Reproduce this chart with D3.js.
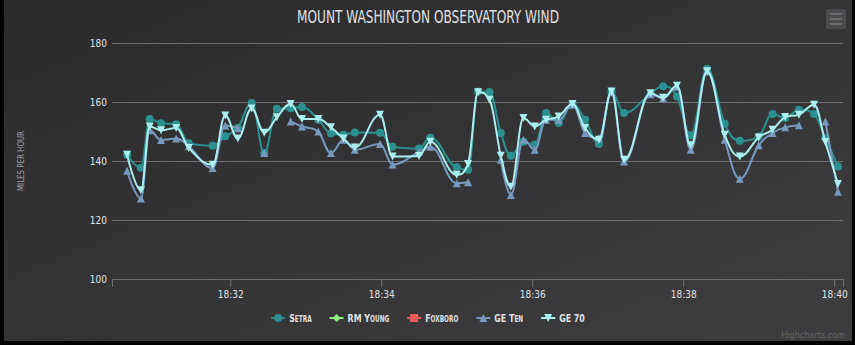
<!DOCTYPE html>
<html>
<head>
<meta charset="utf-8">
<script src="https://cdn.jsdelivr.net/npm/d3@7"></script>
<style>
  html, body { margin: 0; padding: 0; background: #000; }
  svg { display: block; }
  text { font-family: "DejaVu Sans Condensed", "Liberation Sans Narrow", "Roboto", sans-serif; }
</style>
</head>
<body>
<svg id="chart" width="855" height="345"></svg>
<script>
// Observation times (HH:MM:SS)
const times = [
  "18:30:38","18:30:49","18:30:56","18:31:05","18:31:17","18:31:27","18:31:46","18:31:56",
  "18:32:06","18:32:17","18:32:27","18:32:37","18:32:48","18:32:57","18:33:10","18:33:20",
  "18:33:30","18:33:39","18:33:59","18:34:09","18:34:30","18:34:39","18:35:00","18:35:09",
  "18:35:17","18:35:26","18:35:35","18:35:43","18:35:53","18:36:02","18:36:11","18:36:21",
  "18:36:32","18:36:42","18:36:53","18:37:03","18:37:13","18:37:34","18:37:44","18:37:55",
  "18:38:06","18:38:19","18:38:33","18:38:45","18:39:00","18:39:11","18:39:21","18:39:32",
  "18:39:44","18:39:53","18:40:03"
];

// Wind speed per sensor, miles per hour (null = no reading)
const setra = [
  142.1,137.7,154.2,152.8,152.5,146.0,145.2,148.4,151.3,159.7,142.7,157.7,157.9,158.3,154.0,149.3,
  148.9,149.7,149.6,144.8,144.2,147.9,137.9,137.0,163.6,163.4,149.5,141.8,146.5,145.5,156.3,152.9,
  159.3,154.0,145.8,163.6,156.3,162.8,165.3,161.9,148.7,171.3,152.6,146.9,148.3,155.9,154.6,157.4,
  155.9,147.8,138.1
];
const rmYoung = [];
const foxboro = [];
const geTen = [
  136.7,127.3,150.4,147.1,147.6,145.0,137.6,152.0,151.1,null,142.7,null,153.4,151.7,150.0,142.7,
  147.2,143.8,145.8,138.8,143.1,144.8,132.5,132.8,null,null,140.4,128.5,147.2,143.8,154.0,154.0,
  159.1,149.5,147.8,163.3,139.8,162.6,161.3,165.2,143.8,170.3,147.2,134.0,145.3,149.5,151.4,152.1,
  null,153.4,129.6
];
const ge70 = [
  142.1,130.1,151.7,150.4,151.2,144.4,138.7,155.4,147.6,157.8,149.6,154.8,159.3,154.2,154.2,151.4,
  147.6,144.6,155.7,141.5,141.7,146.5,135.3,139.0,163.3,160.8,141.8,131.3,154.6,151.7,154.0,155.1,
  159.3,151.2,147.2,163.6,140.4,163.0,161.4,165.5,145.3,170.4,148.9,141.5,148.0,150.6,154.9,155.7,
  159.1,146.4,132.2
];

const seriesNames = ["Setra", "RM Young", "Foxboro", "GE Ten", "GE 70"];
const seriesValues = [setra, rmYoung, foxboro, geTen, ge70];
const seriesColors = ["#2b908f", "#90ee7e", "#f45b5b", "#7798BF", "#aaeeee"];
const seriesSymbols = ["circle", "diamond", "square", "triangle", "triangle-down"];

const yTicks = [100, 120, 140, 160, 180];
const xTicks = ["18:32:00", "18:34:00", "18:36:00", "18:38:00", "18:40:00"];
const xStart = "18:30:26", xEnd = "18:40:07";

const chartTitle = "MOUNT WASHINGTON OBSERVATORY WIND";
const yTitle = "MILES PER HOUR";
const credits = "Highcharts.com";

// ---------- layout ----------
const W = 855, H = 345;
const plot = { left: 112, right: 843, top: 43, bottom: 279 };
const parseTime = d3.timeParse("%H:%M:%S");
const fontStack = "\"DejaVu Sans Condensed\", \"Liberation Sans Narrow\", Roboto, sans-serif";

const svg = d3.select("#chart");
const defs = svg.append("defs");
const grad = defs.append("linearGradient").attr("id", "bg")
  .attr("x1", 0).attr("y1", 0).attr("x2", 1).attr("y2", 1);
grad.append("stop").attr("offset", 0).attr("stop-color", "#2a2a2b");
grad.append("stop").attr("offset", 1).attr("stop-color", "#3e3e40");

svg.append("rect").attr("width", W).attr("height", H).attr("fill", "#000");
svg.append("rect").attr("x", 4).attr("y", 0).attr("width", 848).attr("height", 341)
  .attr("fill", "url(#bg)");

const x = d3.scaleTime()
  .domain([parseTime(xStart), parseTime(xEnd)])
  .range([plot.left, plot.right]);
const y = d3.scaleLinear().domain([100, 180]).range([plot.bottom, plot.top]);

// title
svg.append("text")
  .attr("x", 428).attr("y", 23)
  .attr("text-anchor", "middle")
  .attr("fill", "#E0E0E3")
  .attr("font-size", 17)
  .attr("textLength", 262).attr("lengthAdjust", "spacingAndGlyphs")
  .text(chartTitle);

// export menu button
const btn = svg.append("g");
btn.append("rect").attr("x", 826).attr("y", 9).attr("width", 20).attr("height", 20)
  .attr("rx", 2).attr("fill", "#4b4b4e");
[14, 19, 24].forEach(v => btn.append("line")
  .attr("x1", 830).attr("x2", 842).attr("y1", v).attr("y2", v)
  .attr("stroke", "#6c6c70").attr("stroke-width", 2));

// y axis with grid
const yAxis = svg.append("g").attr("transform", `translate(${plot.left},0)`)
  .call(d3.axisLeft(y).tickValues(yTicks).tickSize(-(plot.right - plot.left)).tickPadding(5));
yAxis.select(".domain").remove();
yAxis.selectAll(".tick line").attr("stroke", "#707073").attr("stroke-width", 1);
yAxis.selectAll(".tick text").attr("fill", "#E0E0E3").attr("font-size", 10)
  .attr("font-family", fontStack);

// y axis title
svg.append("text")
  .attr("transform", `translate(24,${(plot.top + plot.bottom) / 2}) rotate(-90)`)
  .attr("text-anchor", "middle")
  .attr("fill", "#A0A0A3")
  .attr("font-size", 9)
  .attr("textLength", 60).attr("lengthAdjust", "spacingAndGlyphs")
  .text(yTitle);

// x axis
const xAxis = svg.append("g").attr("transform", `translate(0,${plot.bottom})`)
  .call(d3.axisBottom(x).tickValues(xTicks.map(parseTime))
    .tickFormat(d3.timeFormat("%H:%M")).tickSize(8).tickPadding(4));
xAxis.select(".domain").attr("stroke", "#707073");
xAxis.selectAll(".tick line").attr("stroke", "#707073");
xAxis.selectAll(".tick text").attr("fill", "#E0E0E3").attr("font-size", 10)
  .attr("font-family", fontStack);

// ---------- marks ----------
function symbolPath(type, cx, cy, r) {
  const l = cx - r, t = cy - r, w = 2 * r, h = 2 * r;
  switch (type) {
    case "circle":
      return `M${cx - r},${cy}a${r},${r} 0 1,0 ${w},0a${r},${r} 0 1,0 ${-w},0Z`;
    case "square":
      return `M${l},${t}h${w}v${h}h${-w}Z`;
    case "diamond":
      return `M${cx},${t}L${l + w},${cy}L${cx},${t + h}L${l},${cy}Z`;
    case "triangle":
      return `M${cx},${t}L${l + w},${t + h}L${l},${t + h}Z`;
    case "triangle-down":
      return `M${l},${t}L${l + w},${t}L${cx},${t + h}Z`;
  }
  return "";
}

// Spline through points with the smoothing used by Highcharts' spline series
function splinePath(pts) {
  if (!pts.length) return "";
  const smoothing = 1.5, denom = smoothing + 1;
  let d = `M${pts[0][0]},${pts[0][1]}`;
  let prevRight = null;
  for (let i = 1; i < pts.length; i++) {
    const [px, py] = pts[i];
    const [lx, ly] = pts[i - 1];
    let leftX = px, leftY = py, right = null;
    if (i < pts.length - 1) {
      const [nx, ny] = pts[i + 1];
      leftX = (smoothing * px + lx) / denom;
      leftY = (smoothing * py + ly) / denom;
      let rightX = (smoothing * px + nx) / denom;
      let rightY = (smoothing * py + ny) / denom;
      if (rightX !== leftX) {
        const correction = ((rightY - leftY) * (rightX - px)) / (rightX - leftX) + py - rightY;
        leftY += correction; rightY += correction;
      }
      if (leftY > ly && leftY > py) { leftY = Math.max(ly, py); rightY = 2 * py - leftY; }
      else if (leftY < ly && leftY < py) { leftY = Math.min(ly, py); rightY = 2 * py - leftY; }
      if (rightY > ny && rightY > py) { rightY = Math.max(ny, py); leftY = 2 * py - rightY; }
      else if (rightY < ny && rightY < py) { rightY = Math.min(ny, py); leftY = 2 * py - rightY; }
      right = [rightX, rightY];
    }
    const c1 = prevRight || [lx, ly];
    d += `C${c1[0]},${c1[1]} ${leftX},${leftY} ${px},${py}`;
    prevRight = right;
  }
  return d;
}

const plotG = svg.append("g");
seriesValues.forEach((vals, si) => {
  const g = plotG.append("g");
  const pts = vals.map((v, i) => (v == null ? null : [x(parseTime(times[i])), y(v)]));
  // split into runs broken by missing readings
  const runs = [];
  let cur = [];
  pts.forEach(p => {
    if (p) cur.push(p);
    else { if (cur.length) runs.push(cur); cur = []; }
  });
  if (cur.length) runs.push(cur);
  runs.filter(r => r.length > 1).forEach(r => {
    g.append("path").attr("d", splinePath(r))
      .attr("fill", "none").attr("stroke", seriesColors[si])
      .attr("stroke-width", 2).attr("stroke-linejoin", "round").attr("stroke-linecap", "round");
  });
  g.selectAll("path.marker").data(pts.filter(p => p)).enter().append("path")
    .attr("class", "marker")
    .attr("d", p => symbolPath(seriesSymbols[si], p[0], p[1], 4))
    .attr("fill", seriesColors[si]);
});

// ---------- legend ----------
const legend = svg.append("g");
const legendY = 318;
const textOffset = 18, itemGap = 18, squeeze = 0.8;
let lx = 0;
seriesNames.forEach((name, i) => {
  const item = legend.append("g");
  item.append("line").attr("x1", 0).attr("x2", 14).attr("y1", legendY).attr("y2", legendY)
    .attr("stroke", seriesColors[i]).attr("stroke-width", 2);
  item.append("path").attr("d", symbolPath(seriesSymbols[i], 7, legendY, 4))
    .attr("fill", seriesColors[i]);
  const t = item.append("text").attr("x", textOffset).attr("y", legendY + 4)
    .attr("fill", "#E0E0E3").attr("font-size", 11).attr("font-weight", "bold")
    .style("font-variant", "small-caps")
    .text(name);
  const tw = t.node().getComputedTextLength() * squeeze;
  t.attr("textLength", tw).attr("lengthAdjust", "spacingAndGlyphs");
  item.attr("transform", `translate(${lx},0)`);
  lx += textOffset + tw + itemGap;
});
const legendWidth = lx - itemGap;
legend.attr("transform", `translate(${428 - legendWidth / 2},0)`);

// credits
svg.append("text")
  .attr("x", 845).attr("y", 338)
  .attr("text-anchor", "end")
  .attr("fill", "#666")
  .attr("font-size", 9)
  .text(credits);
</script>
</body>
</html>
